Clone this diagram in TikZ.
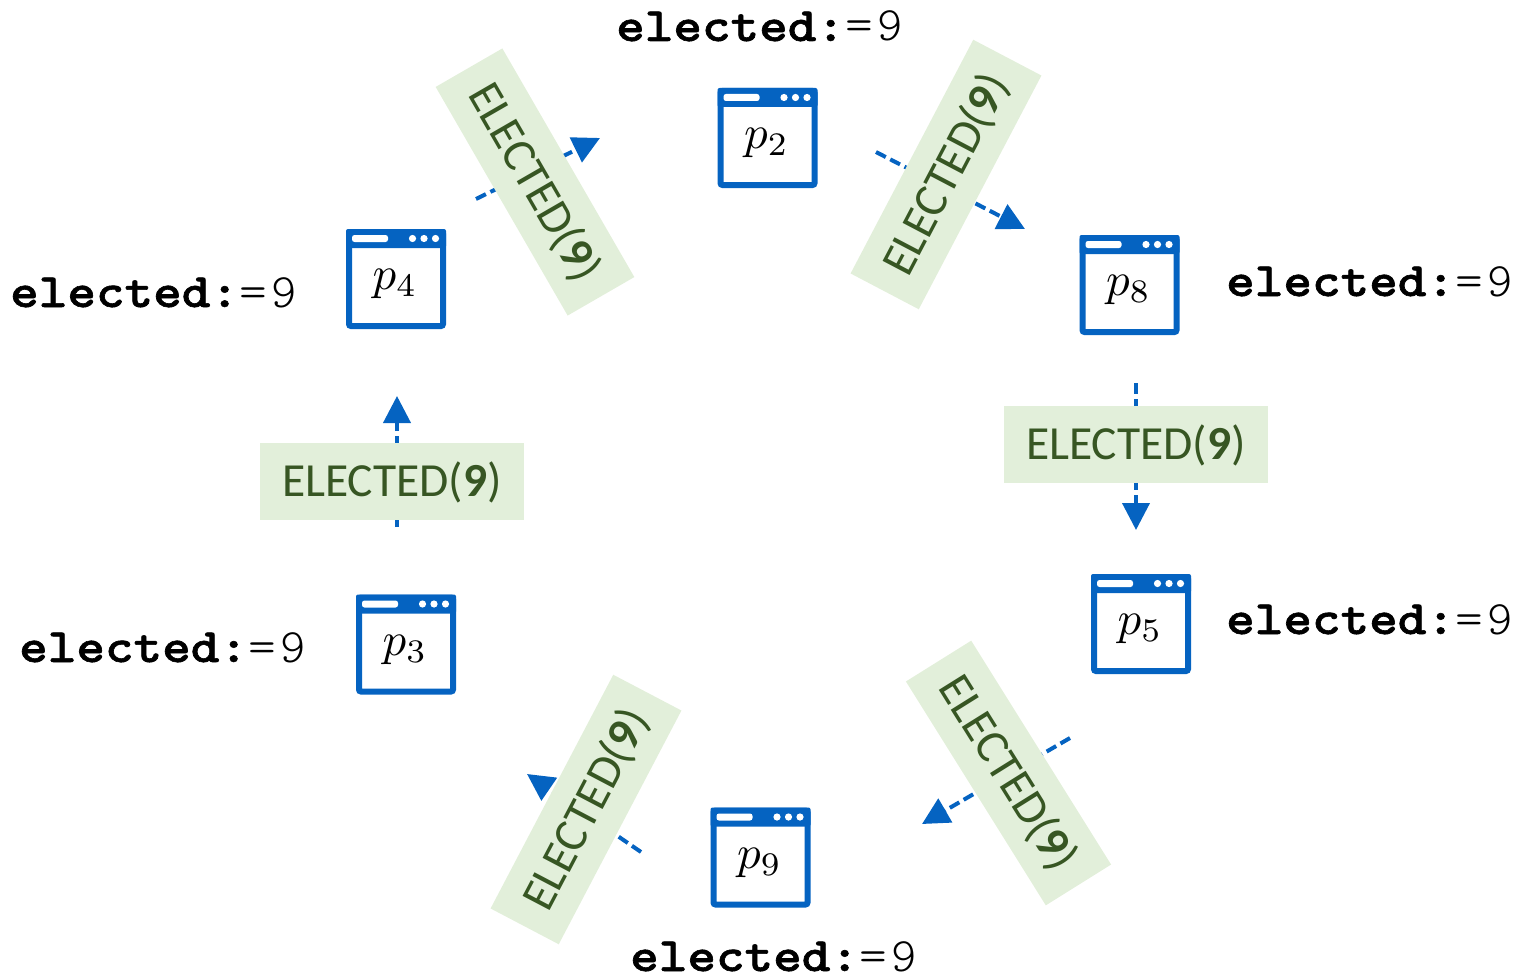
\documentclass[tikz,border=0pt]{standalone}
\usepackage{fontspec}
\usetikzlibrary{arrows.meta,calc}
\newfontfamily\lblfont{Carlito}
\newfontfamily\statelightfont{Latin Modern Mono Light}
\newfontfamily\stateboldfont[BoldFeatures={FakeBold=1.2}]{Latin Modern Mono Light}
\definecolor{winblue}{HTML}{0563C1}
\definecolor{lblfill}{HTML}{E2EFDA}
\definecolor{lbltext}{HTML}{375623}
\tikzset{
  window/.style={draw=winblue,line width=6pt,fill=white,rounded corners=2pt,minimum size=94pt,inner sep=0pt},
  msglabel/.style={fill=lblfill,text=lbltext,minimum width=264pt,minimum height=77pt,inner sep=0pt,
    font=\lblfont\fontsize{47.5}{48}\selectfont},
  flow/.style={draw=winblue,line width=4pt,dash pattern=on 11pt off 5pt,
    -{Triangle[length=27pt,width=27pt,fill=winblue]}},
  statelabel/.style={anchor=base west,inner sep=0pt,text=black},
  winband/.style={fill=winblue},
  winslot/.style={fill=white,rounded corners=2.5pt},
}
\newcommand{\statetext}{\scalebox{1.135}[1]{\stateboldfont\bfseries\fontsize{48}{48}\selectfont elected:}\hspace{0pt}{\statelightfont\fontsize{48}{48}\selectfont\scalebox{1.1}[1]{=}\hspace{4.5pt}9}}
\newcommand{\msgtext}{\raisebox{-15pt}[0pt][0pt]{ELECTED(\textbf{9})}}
\newcommand{\procwin}[4]{%
  \node[window] (#1) at (#2,#3) {};
  \fill[winband,rounded corners=2pt] ($(#1.center)+(-50,-50)$) rectangle ($(#1.center)+(50,-31)$);
  \fill[winslot] ($(#1.center)+(-44,-44)$) rectangle ($(#1.center)+(-8,-37)$);
  \fill[white] ($(#1.center)+(16.5,-40.5)$) circle (3.6pt) ($(#1.center)+(28,-40.5)$) circle (3.6pt) ($(#1.center)+(39.5,-40.5)$) circle (3.6pt);
  \node[inner sep=0pt,text=black] (#1t) at ($(#1.center)+(-1,5)$) {\scalebox{4.7}{$p_{#4}$}};
}
\begin{document}
\begin{tikzpicture}[x=1pt,y=-1pt]
\useasboundingbox (0,0) rectangle (1518,979);
% free ends of the connectors
\coordinate (a1s) at (876,152);   \coordinate (a1e) at (1025,229);
\coordinate (a2s) at (1136,383);  \coordinate (a2e) at (1136,530);
\coordinate (a3s) at (1070,738);  \coordinate (a3e) at (922,824);
\coordinate (a4s) at (641,852);   \coordinate (a4e) at (527,774);
\coordinate (a5s) at (397,527);   \coordinate (a5e) at (397,396);
\coordinate (a6s) at (476,199);   \coordinate (a6e) at (600,138);
\draw[flow] (a1s) -- (a1e);
\draw[flow] (a2s) -- (a2e);
\draw[flow] (a3s) -- (a3e);
\draw[flow] (a4s) -- (a4e);
\draw[flow] (a5s) -- (a5e);
\draw[flow] (a6s) -- (a6e);
% message labels
\node[msglabel,rotate=62.3] (m1) at (946,174.5) {\msgtext};
\node[msglabel] (m2) at (1136,444) {\msgtext};
\node[msglabel,rotate=-58] (m3) at (1008.5,773) {\msgtext};
\node[msglabel,rotate=62.3] (m4) at (586,809.5) {\msgtext};
\node[msglabel] (m5) at (392,481) {\msgtext};
\node[msglabel,rotate=-60] (m6) at (535,182) {\msgtext};
% processes
\procwin{p2}{767.5}{138}{2}
\procwin{p8}{1129.5}{285}{8}
\procwin{p5}{1141}{624}{5}
\procwin{p9}{760.5}{857.5}{9}
\procwin{p3}{406}{644.5}{3}
\procwin{p4}{396}{279}{4}
% state texts
\node[statelabel] (s2) at (616,41) {\statetext};
\node[statelabel] (s8) at (1226,296) {\statetext};
\node[statelabel] (s5) at (1226,634) {\statetext};
\node[statelabel] (s4) at (10,307) {\statetext};
\node[statelabel] (s3) at (19,662) {\statetext};
\node[statelabel] (s9) at (630,971) {\statetext};
\end{tikzpicture}
\end{document}
